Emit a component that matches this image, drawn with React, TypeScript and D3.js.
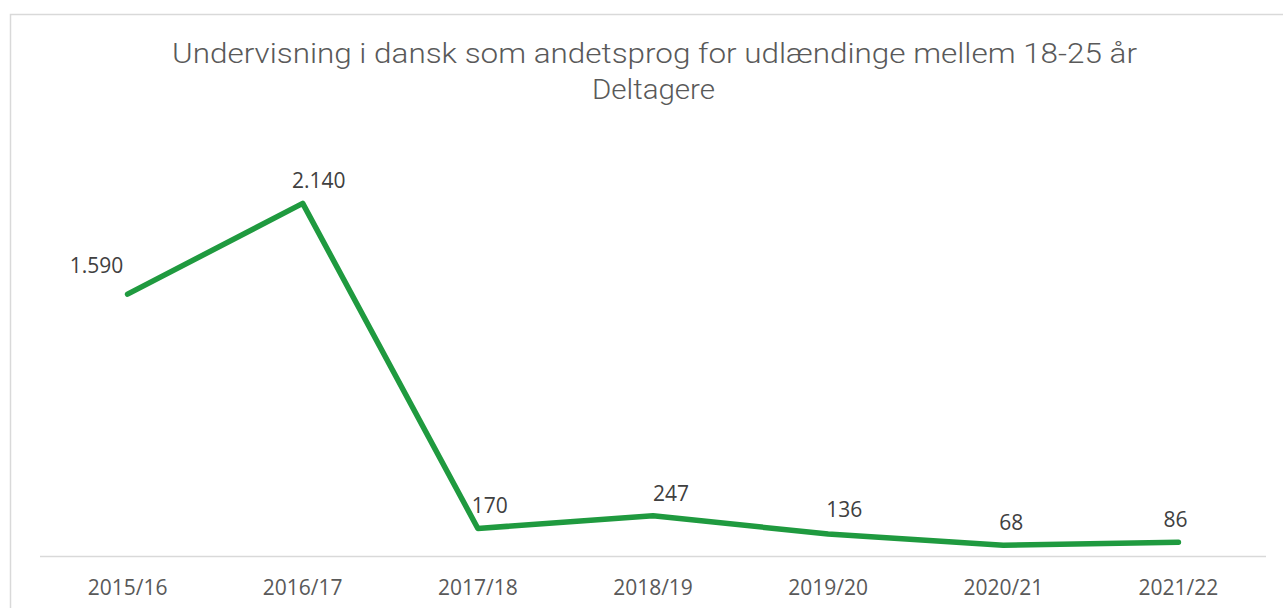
import React from "react";
import * as d3 from "d3";

const categories = ["2015/16", "2016/17", "2017/18", "2018/19", "2019/20", "2020/21", "2021/22"];
const values = [1590, 2140, 170, 247, 136, 68, 86];
const valueLabels = ["1.590", "2.140", "170", "247", "136", "68", "86"];
const labelDx = [-31, 16, 12, 18, 16, 8, -3];
const labelDy = [-21, -15, -15, -15, -17, -15, -15];

const W = 1283;
const H = 608;

export default function App() {
  const x = d3.scaleBand<string>().domain(categories).range([40, 1266]);
  const y = d3.scaleLinear().domain([0, 2500]).range([556.5, 144]);
  const cx = (c: string) => (x(c) as number) + x.bandwidth() / 2;
  const line = d3
    .line<number>()
    .x((_, i) => cx(categories[i]))
    .y((d) => y(d));

  return (
    <svg
      width={W}
      height={H}
      style={{ position: "fixed", left: 0, top: 0, background: "#fff" }}
    >
      <rect x={0} y={0} width={W} height={H} fill="#fff" />
      <rect x={10.5} y={14.5} width={1300} height={700} fill="none" stroke="#d9d9d9" strokeWidth={1.5} />
      <text
        x={654.5}
        y={62.5}
        textAnchor="middle"
        fontFamily="Roboto, 'Noto Sans', sans-serif"
        fontWeight={300}
        fontSize={28}
        fill="#595959"
        textLength={965}
        lengthAdjust="spacingAndGlyphs"
      >
        Undervisning i dansk som andetsprog for udlændinge mellem 18-25 år
      </text>
      <text
        x={653.5}
        y={98.5}
        textAnchor="middle"
        fontFamily="Roboto, 'Noto Sans', sans-serif"
        fontWeight={300}
        fontSize={27}
        fill="#595959"
        textLength={123}
        lengthAdjust="spacingAndGlyphs"
      >
        Deltagere
      </text>
      <line x1={40} x2={1266} y1={556.5} y2={556.5} stroke="#d9d9d9" strokeWidth={1.5} />
      {categories.map((c) => (
        <text
          key={c}
          x={cx(c)}
          y={595}
          textAnchor="middle"
          fontFamily="'Open Sans', sans-serif"
          fontSize={21}
          fill="#595959"
        >
          {c}
        </text>
      ))}
      <path
        d={line(values) || ""}
        fill="none"
        stroke="#1f9a3f"
        strokeWidth={5.5}
        strokeLinejoin="round"
        strokeLinecap="round"
      />
      {values.map((v, i) => (
        <text
          key={i}
          x={cx(categories[i]) + labelDx[i]}
          y={y(v) + labelDy[i]}
          textAnchor="middle"
          fontFamily="'Open Sans', sans-serif"
          fontSize={21}
          fill="#404040"
        >
          {valueLabels[i]}
        </text>
      ))}
    </svg>
  );
}
